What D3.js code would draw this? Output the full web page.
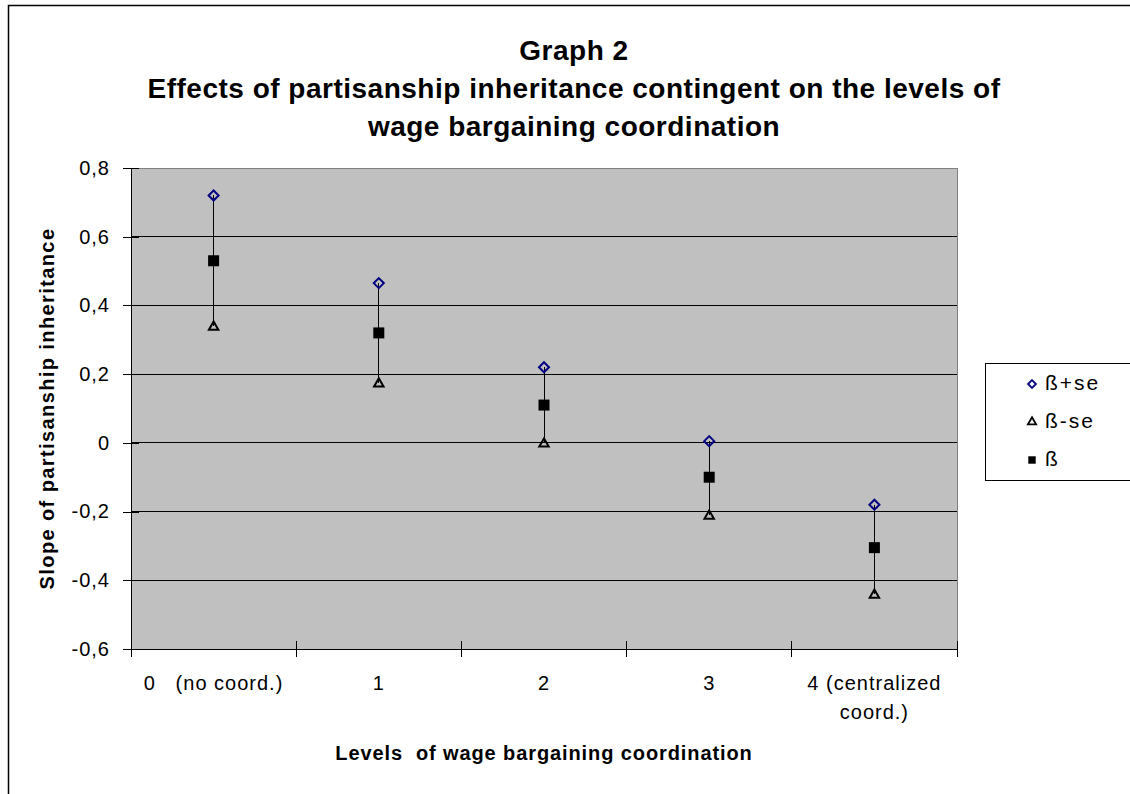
<!DOCTYPE html>
<html>
<head>
<meta charset="utf-8">
<script src="https://cdn.jsdelivr.net/npm/d3@7"></script>
<style>
  body { margin: 0; background: #fff; }
  svg { font-family: "Liberation Sans", Arial, sans-serif; }
</style>
</head>
<body>
<div id="chart"></div>
<script>
// Size of the page
const w = 1130;
const h = 794;

// Data
const categories = ["0   (no coord.)", "1", "2", "3", "4 (centralized coord.)"];
const categoryLines = [["0   (no coord.)"], ["1"], ["2"], ["3"], ["4 (centralized", "coord.)"]];
const betaPlusSe = [0.72, 0.465, 0.22, 0.005, -0.18];
const betaMinusSe = [0.34, 0.175, 0.0, -0.21, -0.44];
const beta = [0.53, 0.32, 0.11, -0.10, -0.305];
const yTicks = [-0.6, -0.4, -0.2, 0, 0.2, 0.4, 0.6, 0.8];
const legendLabels = ["ß+se", "ß-se", "ß"];

const titleLines = ["Graph 2",
  "Effects of partisanship inheritance contingent on the levels of",
  "wage bargaining coordination"];

// Plot area
const plot = { left: 131, right: 957, top: 168, bottom: 649 };

const svg = d3.select("#chart")
    .append("svg")
    .attr("width", w)
    .attr("height", h);

// outer chart border (runs off the page on the right and bottom)
svg.append("rect")
    .attr("x", 8.5).attr("y", 5.5)
    .attr("width", w + 20).attr("height", h + 20)
    .attr("fill", "#fff")
    .attr("stroke", "#000")
    .attr("stroke-width", 1.5);

// scales
const xScale = d3.scaleBand()
    .domain(categories)
    .range([plot.left, plot.right])
    .padding(0);

const yScale = d3.scaleLinear()
    .domain([-0.6, 0.8])
    .range([plot.bottom, plot.top]);

const locale = d3.formatLocale({ decimal: ",", thousands: ".", grouping: [3], currency: ["", ""] });
const fmt = d => d === 0 ? "0" : locale.format(".1f")(d).replace("−", "-");

// grey background
svg.append("rect")
    .attr("x", plot.left).attr("y", plot.top)
    .attr("width", plot.right - plot.left)
    .attr("height", plot.bottom - plot.top)
    .attr("fill", "#c0c0c0")
    .attr("stroke", "#808080")
    .attr("shape-rendering", "crispEdges");

// gridlines
svg.append("g")
    .selectAll("line")
    .data(yTicks.filter(d => d > -0.6 && d < 0.8))
    .enter()
    .append("line")
    .attr("x1", plot.left).attr("x2", plot.right)
    .attr("y1", d => yScale(d)).attr("y2", d => yScale(d))
    .attr("stroke", "#000")
    .attr("shape-rendering", "crispEdges");

// y axis
const yAxis = d3.axisLeft(yScale)
    .tickValues(yTicks)
    .tickFormat(fmt)
    .tickSizeInner(8)
    .tickSizeOuter(0)
    .tickPadding(13);

const yG = svg.append("g")
    .attr("transform", `translate(${plot.left},0)`)
    .call(yAxis);
yG.selectAll(".tick line").attr("x2", -8).attr("x1", 8).attr("stroke", "#000")
    .attr("shape-rendering", "crispEdges");
yG.select(".domain").attr("stroke", "#000").attr("shape-rendering", "crispEdges");
yG.selectAll("text")
    .attr("font-size", "20px")
    .attr("letter-spacing", "1px")
    .attr("font-family", "Liberation Sans, Arial, sans-serif")
    .attr("fill", "#000");

// x axis line and ticks at category borders
svg.append("line")
    .attr("x1", plot.left).attr("x2", plot.right)
    .attr("y1", plot.bottom).attr("y2", plot.bottom)
    .attr("stroke", "#000")
    .attr("shape-rendering", "crispEdges");

const xBounds = categories.map(c => xScale(c)).concat([xScale(categories[categories.length - 1]) + xScale.bandwidth()]);
svg.append("g")
    .selectAll("line")
    .data(xBounds)
    .enter()
    .append("line")
    .attr("x1", d => d).attr("x2", d => d)
    .attr("y1", plot.bottom - 8).attr("y2", plot.bottom + 8)
    .attr("stroke", "#000")
    .attr("shape-rendering", "crispEdges");

// x labels
const xLabels = svg.append("g")
    .selectAll("text")
    .data(categories)
    .enter()
    .append("text")
    .attr("x", d => xScale(d) + xScale.bandwidth() / 2)
    .attr("y", 690)
    .attr("text-anchor", "middle")
    .attr("font-size", "20px")
    .attr("letter-spacing", "1px")
    .attr("fill", "#000")
    .style("white-space", "pre");
xLabels.each(function(d, i) {
    const t = d3.select(this);
    categoryLines[i].forEach((line, j) => {
        t.append("tspan")
            .attr("x", xScale(d) + xScale.bandwidth() / 2)
            .attr("dy", j === 0 ? 0 : 29)
            .text(line);
    });
});

// error bars
const cx = i => xScale(categories[i]) + xScale.bandwidth() / 2;
svg.append("g")
    .selectAll("line")
    .data(categories)
    .enter()
    .append("line")
    .attr("x1", (d, i) => cx(i)).attr("x2", (d, i) => cx(i))
    .attr("y1", (d, i) => yScale(betaPlusSe[i]))
    .attr("y2", (d, i) => yScale(betaMinusSe[i]))
    .attr("stroke", "#000")
    .attr("stroke-width", 1)
    .attr("shape-rendering", "crispEdges");

// markers
const diamond = d3.symbol().type(d3.symbolDiamond2).size(64);
const triangle = d3.symbol().type(d3.symbolTriangle2).size(64);

svg.append("g")
    .selectAll("path")
    .data(betaPlusSe)
    .enter()
    .append("path")
    .attr("d", diamond)
    .attr("transform", (d, i) => `translate(${cx(i)},${yScale(d)})`)
    .attr("fill", "none")
    .attr("stroke", "#000080")
    .attr("stroke-width", 2);

svg.append("g")
    .selectAll("path")
    .data(betaMinusSe)
    .enter()
    .append("path")
    .attr("d", triangle)
    .attr("transform", (d, i) => `translate(${cx(i)},${yScale(d) + 1})`)
    .attr("fill", "none")
    .attr("stroke", "#000")
    .attr("stroke-width", 2);

svg.append("g")
    .selectAll("rect")
    .data(beta)
    .enter()
    .append("rect")
    .attr("x", (d, i) => cx(i) - 5.5)
    .attr("y", d => yScale(d) - 5.5)
    .attr("width", 11).attr("height", 11)
    .attr("fill", "#000");

// title
svg.append("text")
    .attr("text-anchor", "middle")
    .attr("font-size", "28px")
    .attr("font-weight", "bold")
    .attr("letter-spacing", "0.5px")
    .attr("fill", "#000")
    .selectAll("tspan")
    .data(titleLines)
    .enter()
    .append("tspan")
    .attr("x", 574)
    .attr("y", (d, i) => 60 + i * 38)
    .text(d => d);

// y axis title
svg.append("text")
    .attr("transform", `translate(54,${(plot.top + plot.bottom) / 2}) rotate(-90)`)
    .attr("text-anchor", "middle")
    .attr("font-size", "20px")
    .attr("font-weight", "bold")
    .attr("letter-spacing", "1.4px")
    .attr("fill", "#000")
    .text("Slope of partisanship inheritance");

// x axis title
svg.append("text")
    .attr("x", (plot.left + plot.right) / 2)
    .attr("y", 760)
    .attr("text-anchor", "middle")
    .attr("font-size", "20px")
    .attr("font-weight", "bold")
    .attr("letter-spacing", "0.9px")
    .attr("fill", "#000")
    .style("white-space", "pre")
    .text("Levels  of wage bargaining coordination");

// legend
const legend = svg.append("g");
legend.append("rect")
    .attr("x", 985.5).attr("y", 363.5)
    .attr("width", 200).attr("height", 117)
    .attr("fill", "#fff")
    .attr("stroke", "#000");

const legendY = d3.scalePoint().domain(legendLabels).range([383, 459]);
const legendSym = [
    { d: d3.symbol().type(d3.symbolDiamond2).size(40)(), fill: "none", stroke: "#000080" },
    { d: d3.symbol().type(d3.symbolTriangle2).size(48)(), fill: "none", stroke: "#000" },
    { d: d3.symbol().type(d3.symbolSquare2).size(70)(), fill: "#000", stroke: "none" }
];
legend.selectAll("path")
    .data(legendLabels)
    .enter()
    .append("path")
    .attr("d", (d, i) => legendSym[i].d)
    .attr("transform", d => `translate(1032,${legendY(d) + 1})`)
    .attr("fill", (d, i) => legendSym[i].fill)
    .attr("stroke", (d, i) => legendSym[i].stroke)
    .attr("stroke-width", 1.8);
legend.selectAll("text")
    .data(legendLabels)
    .enter()
    .append("text")
    .attr("x", 1045)
    .attr("y", d => legendY(d) + 7)
    .attr("font-size", "21px")
    .attr("letter-spacing", "2px")
    .attr("fill", "#000")
    .text(d => d);
</script>
</body>
</html>
